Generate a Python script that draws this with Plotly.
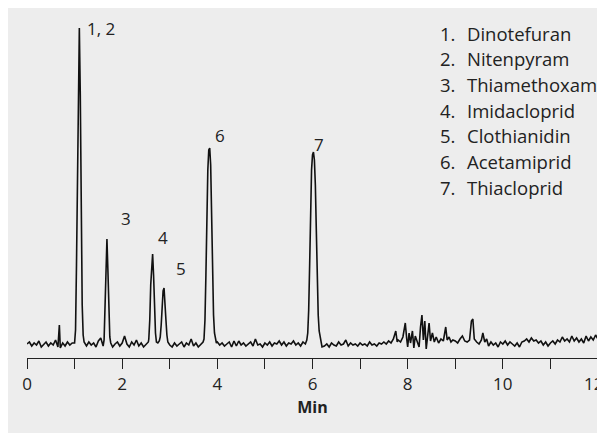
import plotly.graph_objects as go

# Retention time (min) and detector response (arbitrary units, baseline = 0)
time_min = [
    0.00, 0.05, 0.10, 0.15, 0.20, 0.25, 0.30, 0.35, 0.40, 0.45, 0.50, 0.55, 0.60, 0.65, 0.68, 0.70,
    0.75, 0.80, 0.85, 0.90, 0.95,
    1.00, 1.02, 1.04, 1.06, 1.08, 1.10, 1.12, 1.14, 1.16, 1.18, 1.20,
    1.25, 1.30, 1.35, 1.40, 1.45, 1.50, 1.55, 1.60,
    1.62, 1.64, 1.66, 1.68, 1.70, 1.72, 1.74, 1.76,
    1.80, 1.85, 1.90, 1.95, 2.00, 2.05, 2.10, 2.15, 2.20, 2.25, 2.30, 2.35, 2.40, 2.45, 2.50, 2.55,
    2.56, 2.58, 2.60, 2.62, 2.64, 2.66, 2.68, 2.70, 2.72, 2.75, 2.78,
    2.80, 2.82, 2.84, 2.86, 2.88, 2.90, 2.92, 2.94, 2.96, 3.00,
    3.05, 3.10, 3.15, 3.20, 3.25, 3.30, 3.35, 3.40, 3.45, 3.50, 3.55, 3.60, 3.65, 3.70,
    3.72, 3.74, 3.76, 3.78, 3.80, 3.82, 3.84, 3.86, 3.88, 3.90, 3.92, 3.94, 3.96, 3.98,
    4.00, 4.05, 4.10, 4.15, 4.20, 4.25, 4.30, 4.35, 4.40, 4.45, 4.50, 4.55, 4.60, 4.65, 4.70, 4.75,
    4.80, 4.85, 4.90, 4.95, 5.00, 5.05, 5.10, 5.15, 5.20, 5.25, 5.30, 5.35, 5.40, 5.45, 5.50, 5.55,
    5.60, 5.65, 5.70, 5.75, 5.80, 5.85,
    5.88, 5.90, 5.92, 5.94, 5.96, 5.98, 6.00, 6.02, 6.04, 6.06, 6.08, 6.10, 6.12, 6.14, 6.16, 6.18, 6.20,
    6.25, 6.30, 6.35, 6.40, 6.45, 6.50, 6.55, 6.60, 6.65, 6.70, 6.75, 6.80, 6.85, 6.90, 6.95, 7.00,
    7.05, 7.10, 7.15, 7.20, 7.25, 7.30, 7.35, 7.40, 7.45, 7.50, 7.55, 7.60, 7.65, 7.70, 7.75, 7.78,
    7.80, 7.85, 7.90, 7.95, 7.98, 8.00, 8.03, 8.06, 8.10, 8.13, 8.16, 8.20, 8.24, 8.27, 8.30, 8.33,
    8.36, 8.39, 8.42, 8.45, 8.48, 8.52, 8.56, 8.60, 8.65, 8.70, 8.75, 8.80, 8.83, 8.87, 8.91, 8.95,
    9.00, 9.05, 9.10, 9.15, 9.20, 9.25, 9.30, 9.34, 9.37, 9.40, 9.45, 9.50, 9.55, 9.58, 9.62, 9.66,
    9.70, 9.75, 9.80, 9.85, 9.90, 9.95, 10.00, 10.05, 10.10, 10.15, 10.20, 10.25, 10.30, 10.35, 10.40,
    10.45, 10.50, 10.55, 10.60, 10.65, 10.70, 10.75, 10.80, 10.85, 10.90, 10.95, 11.00, 11.05, 11.10,
    11.15, 11.20, 11.25, 11.30, 11.35, 11.40, 11.45, 11.50, 11.55, 11.60, 11.65, 11.70, 11.75, 11.80,
    11.85, 11.90, 11.95, 12.00,
]
response = [
    1, 3, -1, 2, 0, 4, -2, 1, 3, -1, 2, 0, 5, -2, 20, -3,
    2, -1, 3, 0, 2,
    2, 15, 80, 165, 290, 317, 250, 120, 40, 10, 3,
    -1, 3, 0, 2, -2, 4, 7, -1,
    5, 40, 90, 106, 75, 30, 8, 2,
    -2, 1, 3, -1, 2, 9, 1, -2, 3, 0, 5, -1, 2, -2, 1, 3,
    6, 25, 60, 85, 91, 70, 35, 12, 3, 2, 4,
    8, 20, 40, 54, 57, 45, 25, 10, 3, 0,
    -2, 2, -1, 1, 3, -2, 2, 0, 6, -1, 2, -2, 1, 3,
    6, 25, 70, 130, 175, 195, 197, 180, 130, 70, 30, 12, 5, 2,
    3, 0, 2, -1, 1, 3, -2, 4, -1, 4, 0, 2, -1, 1, 3, -1,
    6, 0, 1, -2, 2, 0, 3, -1, 2, 1, 4, 0, 3, -1, 2, 1,
    4, 0, 2, -1, 3, 1,
    5, 12, 35, 80, 135, 175, 190, 193, 185, 160, 115, 65, 30, 14, 8, 4, -2,
    -1, 1, -2, 2, 0, -1, 3, 0, 1, 5, -1, 2, 0, 1, -1, 2,
    0, 1, -1, 3, 0, 1, -1, 2, 1, 3, 1, 4, 2, 6, 14, 3,
    5, 3, 8, 22, 6, -2, 12, 2, 14, -3, 9, 4, -2, 18, 30, 5,
    24, -4, 10, 22, 4, 12, 3, 8, 2, 6, 4, 18, 5, 8, 3, 5,
    4, 2, 6, 9, 4, 3, 5, 24, 26, 6, 3, 1, 5, 12, 3, 6,
    -1, 3, 0, 2, -2, 3, 1, 4, 0, 3, 1, -1, 2, -2, 3,
    4, 6, 3, 7, 4, 5, 2, 4, 0, 3, -1, 2, 4, 1,
    5, 3, 8, 4, 6, 3, 9, 4, 7, 3, 6, 2, 9, 4,
    8, 5, 10, 6,
]

# Peak labels (text, retention time, label height)
peak_text = ["1, 2", "3", "4", "5", "6", "7"]
peak_x = [1.22, 2.08, 2.86, 3.23, 4.06, 6.13]
peak_y = [317, 127, 108, 77, 210, 201]
peak_anchor = ["left", "center", "center", "center", "center", "center"]

# Compound key
key_numbers = ["1.", "2.", "3.", "4.", "5.", "6.", "7."]
key_names = ["Dinotefuran", "Nitenpyram", "Thiamethoxam", "Imidacloprid",
             "Clothianidin", "Acetamiprid", "Thiacloprid"]

tick_vals = [0, 1, 2, 3, 4, 5, 6, 7, 8, 9, 10, 11, 12]
# the last label carries a trailing en space so it stays inside the page edge
tick_text = ["0", "", "2", "", "4", "", "6", "", "8", "", "10", "", "12\u2002"]

FONT = "Open Sans"
TXT = "#222222"
BG = "#ededed"

fig = go.Figure()
fig.add_trace(go.Scatter(
    x=time_min, y=response, mode="lines",
    line=dict(color="#111111", width=1.6),
    hoverinfo="skip", showlegend=False,
))

annotations = []
for t, x, y, a in zip(peak_text, peak_x, peak_y, peak_anchor):
    annotations.append(dict(x=x, y=y, xref="x", yref="y", text=t, showarrow=False,
                            xanchor=a, yanchor="middle",
                            font=dict(family=FONT, size=17, color=TXT)))

key_x_num = 8.64
key_x_name = 9.20
key_y0 = 312
key_dy = 25.7
for i, (n, name) in enumerate(zip(key_numbers, key_names)):
    y = key_y0 - i * key_dy
    annotations.append(dict(x=key_x_num, y=y, xref="x", yref="y", text=n, showarrow=False,
                            xanchor="left", yanchor="middle",
                            font=dict(family=FONT, size=18.5, color=TXT)))
    annotations.append(dict(x=key_x_name, y=y, xref="x", yref="y", text=name, showarrow=False,
                            xanchor="left", yanchor="middle",
                            font=dict(family=FONT, size=18.5, color=TXT)))

fig.update_layout(
    width=597, height=425,
    margin=dict(l=19, r=7, t=2, b=75, autoexpand=False),
    paper_bgcolor=BG, plot_bgcolor=BG,
    annotations=annotations,
    shapes=[dict(type="line", xref="x", yref="y", x0=0, x1=0, y0=-13, y1=-32,
                 line=dict(color=TXT, width=1.2))],
    xaxis=dict(
        range=[0, 12], tickmode="array", tickvals=tick_vals, ticktext=tick_text,
        ticks="outside", ticklen=10, tickwidth=1.2, tickcolor=TXT,
        showline=True, linecolor=TXT, linewidth=1.2,
        showgrid=False, zeroline=False, automargin=False,
        ticklabeloverflow="allow",
        tickfont=dict(family=FONT, size=17, color=TXT),
        title=dict(text="<b>Min</b>", font=dict(family=FONT, size=16, color=TXT), standoff=8),
    ),
    yaxis=dict(range=[-13, 335], visible=False, showgrid=False, zeroline=False, automargin=False),
)

fig.write_html("out.html")
